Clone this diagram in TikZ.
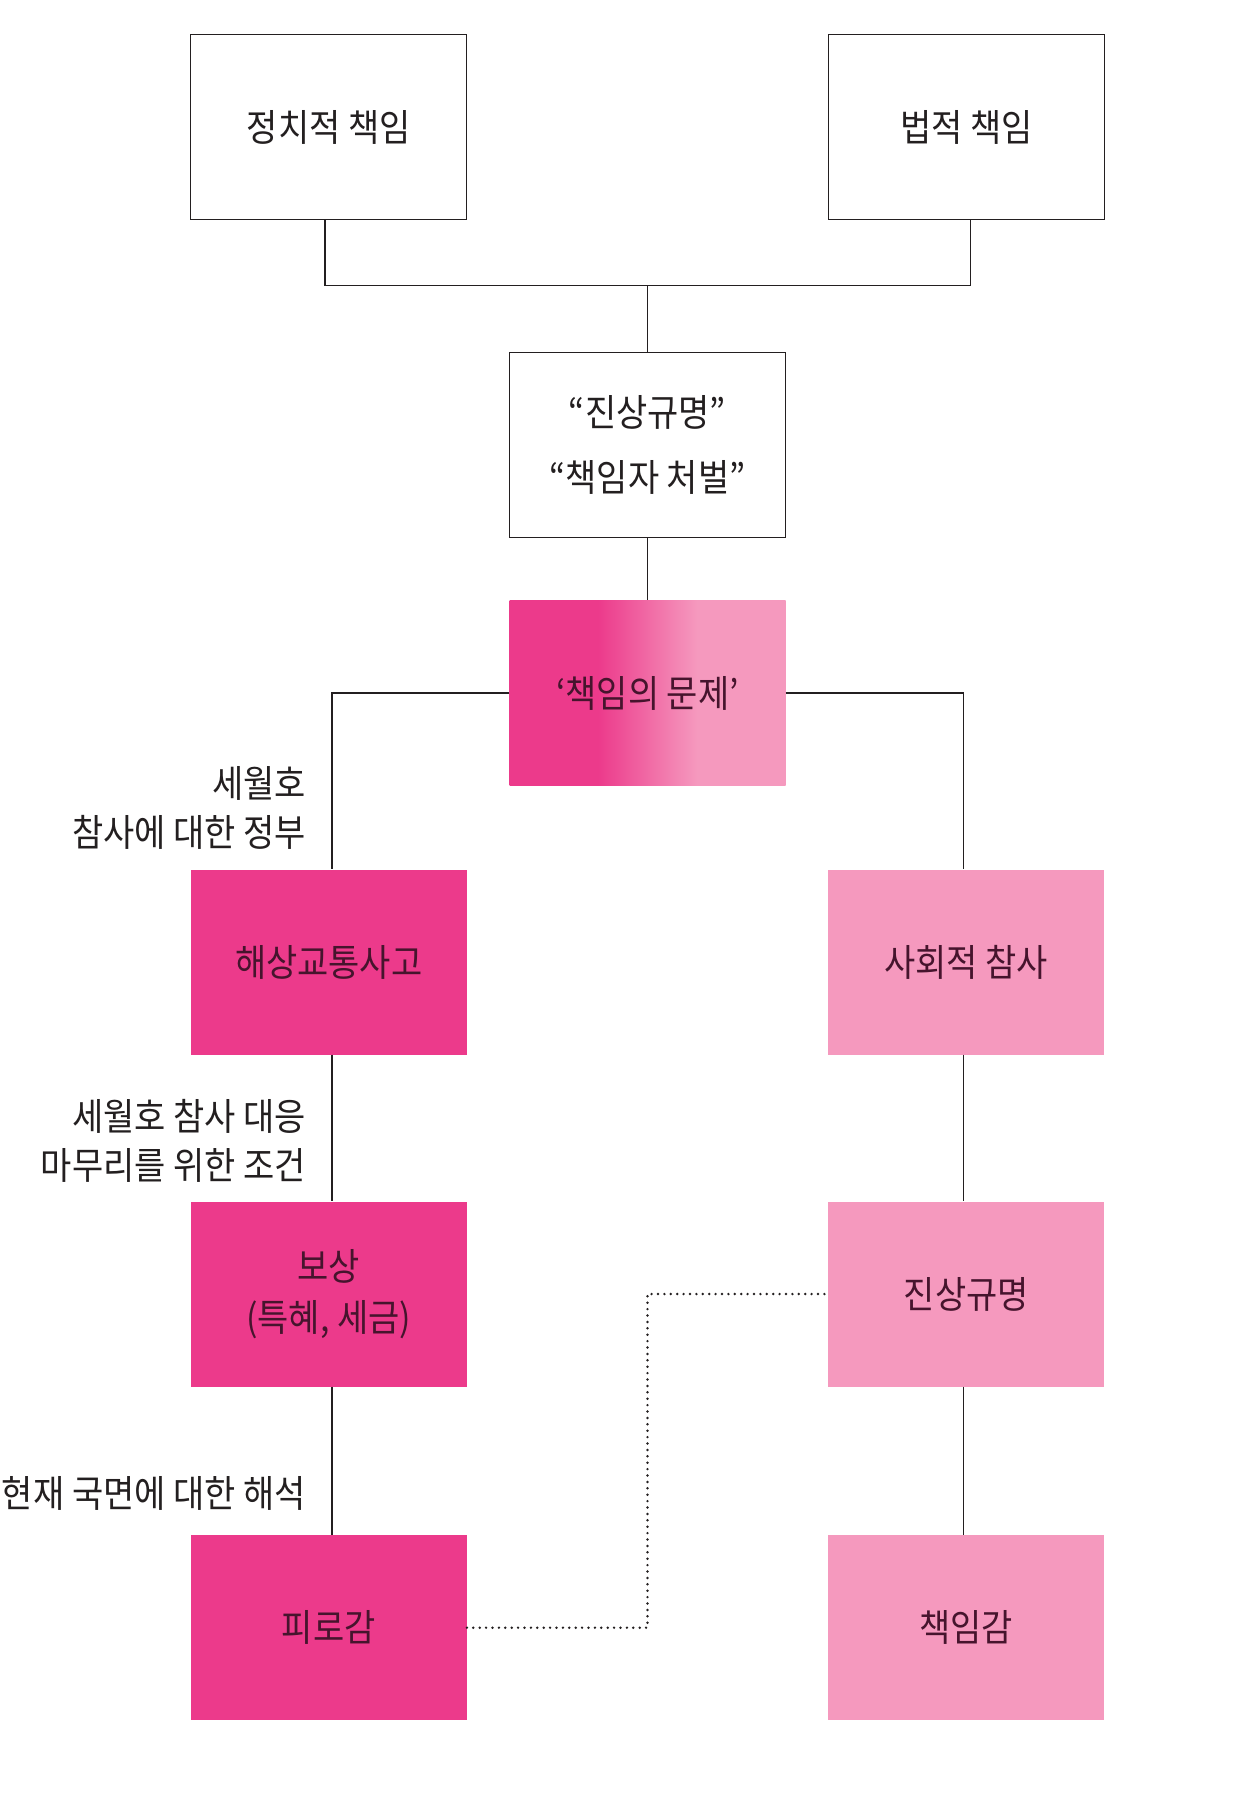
\documentclass[tikz,border=0pt]{standalone}
\usepackage{fontspec}
\newfontfamily\krfont[FakeStretch=0.905]{Noto Sans CJK KR}

\definecolor{rosefort}{RGB}{236,58,139}
\definecolor{rosepale}{RGB}{245,153,190}
\definecolor{encre}{RGB}{35,31,32}
\definecolor{encrerose}{RGB}{70,20,45}

% dégradé de la boîte centrale (fort à gauche, pâle à droite)
\pgfdeclarehorizontalshading{degrade}{100bp}{color(0bp)=(rosefort); color(25bp)=(rosefort); color(41bp)=(rosefort); color(59bp)=(rosepale); color(75bp)=(rosepale); color(100bp)=(rosepale)}

\tikzset{
	boite/.style={minimum width=276bp, minimum height=185bp, inner sep=0pt, align=center,
		font=\krfont\fontsize{37.5bp}{51bp}\selectfont},
	blanc/.style={boite, draw=encre, line width=1.4bp, text=encre},
	fort/.style={boite, fill=rosefort, text=encrerose},
	pale/.style={boite, fill=rosepale, text=encrerose},
	legende/.style={anchor=east, inner sep=0pt, align=right, text=encre,
		font=\krfont\fontsize{37.5bp}{49bp}\selectfont},
	trait/.style={draw=encre, line width=1.6bp},
	pointille/.style={draw=encre, line width=2.7bp, line cap=round, dash pattern=on 0bp off 6.4bp},
}

\begin{document}
\begin{tikzpicture}[x=1bp, y=1bp]
		
		\useasboundingbox (0,0) rectangle (1258,-1812);
		
		% Boîtes du haut
		\node[blanc] (pol) at (328.7,-127) {정치적 책임};
		\node[blanc] (leg) at (966.3,-127) {법적 책임};
		\node[blanc, font=\krfont\fontsize{37.5bp}{65bp}\selectfont] (slog) at (647.5,-444.8) {“진상규명”\\“책임자 처벌”};
		
		% Boîte centrale en dégradé
		\node[boite, shade, shading=degrade, text=encrerose] (prob) at (647.5,-693) {‘책임의 문제’};
		
		% Colonne de gauche
		\node[fort] (acc) at (328.7,-962) {해상교통사고};
		\node[fort] (comp) at (328.7,-1294) {보상\\(특혜, 세금)};
		\node[fort] (fat) at (328.7,-1627.7) {피로감};
		
		% Colonne de droite
		\node[pale] (soc) at (966.3,-962) {사회적 참사};
		\node[pale] (ver) at (966.3,-1294) {진상규명};
		\node[pale] (resp) at (966.3,-1627.7) {책임감};
		
		% Légendes à gauche des traits
		\node[legende] (lg1) at (306,-807.5) {세월호\\참사에 대한 정부};
		\node[legende] (lg2) at (306,-1141) {세월호 참사 대응\\마무리를 위한 조건};
		\node[legende] (lg3) at (306,-1493.7) {현재 국면에 대한 해석};
		
		% Liens
		\coordinate (jonc) at (647.5,-285.3);
		\draw[trait] ([xshift=-4bp]pol.south) |- (jonc) -| ([xshift=4bp]leg.south);
		\draw[trait] (jonc) -- (slog.north);
		\draw[trait] (slog.south) -- (prob.north);
		\draw[trait] (prob.west) -| ([xshift=3bp]acc.north);
		\draw[trait] (prob.east) -| ([xshift=-3bp]soc.north);
		\draw[trait] ([xshift=3bp]acc.south) -- ([xshift=3bp]comp.north);
		\draw[trait] ([xshift=3bp]comp.south) -- ([xshift=3bp]fat.north);
		\draw[trait] ([xshift=-3bp]soc.south) -- ([xshift=-3bp]ver.north);
		\draw[trait] ([xshift=-3bp]ver.south) -- ([xshift=-3bp]resp.north);
		
		% Lien pointillé
		\draw[pointille] (fat.east) -- (fat.east -| prob.south) -- (ver.west -| prob.south) -- (ver.west);
		
	\end{tikzpicture}
\end{document}
